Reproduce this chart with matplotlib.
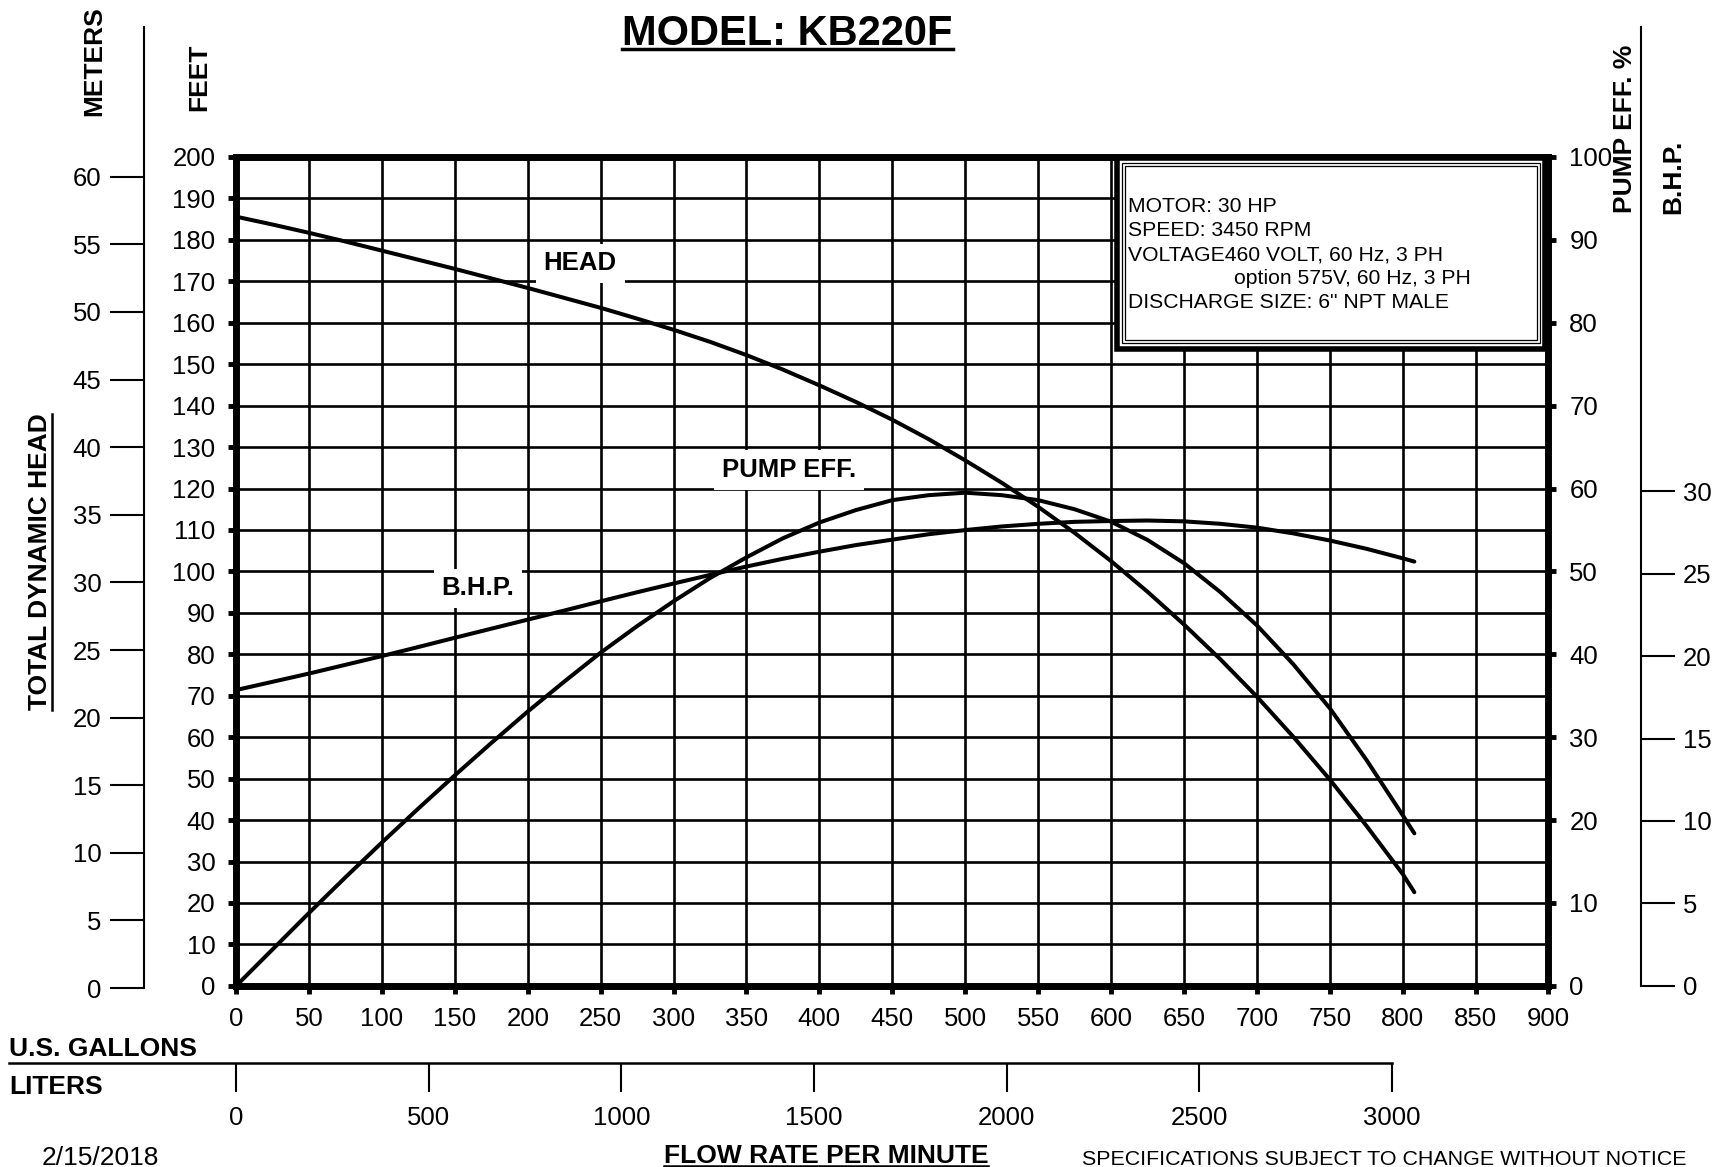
import matplotlib
matplotlib.use("Agg")
import matplotlib.pyplot as plt
from matplotlib.patches import Rectangle
from matplotlib.lines import Line2D

plt.rcParams['font.family'] = ['Liberation Sans', 'DejaVu Sans']

# flow (US gallons per minute) and the three curves
gpm = [0, 25, 50, 75, 100, 125, 150, 175, 200, 225, 250, 275, 300, 325, 350, 375, 400,
       425, 450, 475, 500, 525, 550, 575, 600, 625, 650, 675, 700, 725, 750, 775, 800, 808]
head_ft = [185.6, 183.7, 181.7, 179.6, 177.4, 175.2, 173.0, 170.7, 168.4, 166.0, 163.6,
           161.0, 158.3, 155.4, 152.2, 148.7, 144.9, 140.9, 136.6, 131.9, 126.8, 121.4,
           115.6, 109.3, 102.5, 95.1, 87.2, 78.8, 69.8, 60.1, 49.8, 38.7, 27.0, 22.6]
eff_pct = [0, 4.4, 8.8, 13.1, 17.3, 21.4, 25.4, 29.3, 33.1, 36.7, 40.2, 43.4, 46.4, 49.2,
           51.7, 54.0, 55.9, 57.4, 58.6, 59.2, 59.5, 59.2, 58.6, 57.5, 56.0, 53.8, 51.0,
           47.5, 43.5, 38.8, 33.5, 27.3, 20.6, 18.4]
bhp = [17.94, 18.44, 18.94, 19.47, 20.00, 20.55, 21.11, 21.66, 22.21, 22.76, 23.32,
       23.87, 24.40, 24.92, 25.43, 25.90, 26.33, 26.73, 27.06, 27.39, 27.64, 27.86,
       28.02, 28.14, 28.19, 28.22, 28.17, 28.02, 27.79, 27.44, 27.01, 26.51, 25.93, 25.73]

# axis ticks
gpm_ticks = list(range(0, 901, 50))
ft_ticks = list(range(0, 201, 10))
eff_ticks = list(range(0, 101, 10))
bhp_ticks = list(range(0, 31, 5))
meter_ticks = list(range(0, 61, 5))
liter_ticks = [0, 500, 1000, 1500, 2000, 2500, 3000]
GAL_TO_L = 3.78541

info_lines = ["MOTOR: 30 HP", "SPEED: 3450 RPM", "VOLTAGE460 VOLT, 60 Hz, 3 PH",
              "option 575V, 60 Hz, 3 PH", "DISCHARGE SIZE: 6\" NPT MALE"]

# layout helpers (reference pixel grid 1568 x 1063)
W, H = 1568.0, 1063.0
def fx(x):
    return x / W
def fy(y):
    return 1 - y / H

fig = plt.figure(figsize=(17.22, 11.67), dpi=100)
TS = 18.5
CURVE = dict(color='black', lw=2.9, solid_capstyle='round', solid_joinstyle='round')

# main chart: head in feet
ax = fig.add_axes([fx(215), fy(898), (1410 - 215) / W, (898 - 143) / H])
ax.set_xlim(0, 900)
ax.set_ylim(0, 200)
ax.set_xticks(gpm_ticks)
ax.set_yticks(ft_ticks)
ax.grid(True, color='black', linewidth=1.9)
for s in ax.spines.values():
    s.set_linewidth(5)
ax.tick_params(direction='out', length=6, width=3.5, pad=9, labelsize=TS)
ax.plot(gpm, head_ft, **CURVE)

lab = dict(ha='center', va='center', fontsize=TS, fontweight='bold',
           bbox=dict(facecolor='white', edgecolor='none', boxstyle='square,pad=0.3'))
ax.text(236, 174.3, "HEAD", **lab)
ax.text(379, 124.5, "PUMP EFF.", **lab)
ax.text(166, 95.9, "B.H.P.", **lab)

# pump efficiency on the right border
ax_e = ax.twinx()
ax_e.set_ylim(0, 100)
ax_e.set_yticks(eff_ticks)
ax_e.tick_params(axis='y', direction='out', length=6, width=3.5, pad=9, labelsize=TS)
for s in ax_e.spines.values():
    s.set_visible(False)
ax_e.plot(gpm, eff_pct, **CURVE)

# brake horsepower axis, further right
ax_b = fig.add_axes([fx(215), fy(898), (1494 - 215) / W, (898 - 24.3) / H])
ax_b.set_xlim(0, 900 * (1494 - 215) / (1410 - 215))
ax_b.set_ylim(0, (898 - 24.3) / 15.02)
ax_b.patch.set_visible(False)
for k in ['left', 'top', 'bottom']:
    ax_b.spines[k].set_visible(False)
ax_b.spines['right'].set_linewidth(1.5)
ax_b.set_xticks([])
ax_b.yaxis.tick_right()
ax_b.set_yticks(bhp_ticks)
ax_b.tick_params(axis='y', direction='out', length=24.5, width=1.5, pad=6, labelsize=TS)
ax_b.plot(gpm, bhp, **CURVE)

# meters axis, far left
ax_m = fig.add_axes([fx(131), fy(900), 0.0005, (900 - 24.3) / H])
ax_m.set_ylim(0, (900 - 24.3) / 12.317)
ax_m.patch.set_visible(False)
for k in ['right', 'top', 'bottom']:
    ax_m.spines[k].set_visible(False)
ax_m.spines['left'].set_linewidth(1.5)
ax_m.set_xticks([])
ax_m.set_yticks(meter_ticks)
ax_m.tick_params(axis='y', direction='out', length=24.5, width=1.5, pad=6, labelsize=TS)

# liters scale under the gallons
ax_l = fig.add_axes([fx(8), fy(995), (1410 - 8) / W, 27 / H])
L_full = 900 * GAL_TO_L
ax_l.set_xlim(-L_full * (215 - 8) / (1410 - 215), L_full)
ax_l.patch.set_visible(False)
for k in ['left', 'right', 'bottom']:
    ax_l.spines[k].set_visible(False)
ax_l.spines['top'].set_linewidth(1.8)
ax_l.spines['top'].set_bounds(ax_l.get_xlim()[0], liter_ticks[-1])
ax_l.set_yticks([])
ax_l.set_xticks(liter_ticks)
ax_l.tick_params(axis='x', top=True, bottom=False, labeltop=False, labelbottom=True,
                 direction='in', length=21, width=1.5, pad=10, labelsize=TS)

# info box
tf = fig.transFigure
fig.add_artist(Rectangle((fx(1017), fy(317.5)), (1407 - 1017) / W, (317.5 - 143.5) / H,
                         transform=tf, facecolor='white', edgecolor='black', lw=4, zorder=10))
for inset in (5, 7.5):
    fig.add_artist(Rectangle((fx(1017 + inset), fy(317.5 - inset)),
                             (1407 - 1017 - 2 * inset) / W, (317.5 - 143.5 - 2 * inset) / H,
                             transform=tf, fill=False, edgecolor='black', lw=0.9, zorder=11))
for i, line in enumerate(info_lines):
    x0 = 1124 if line.startswith("option") else 1027
    fig.text(fx(x0), fy(193 + 22 * i), line, fontsize=15.2, va='baseline', ha='left', zorder=12)

# titles and captions
title = fig.text(fx(717), fy(41), "MODEL: KB220F", ha='center', va='baseline',
                 fontsize=30, fontweight='bold')
fig.text(fx(86), fy(56), "METERS", rotation=90, ha='center', va='center',
         fontsize=19, fontweight='bold')
fig.text(fx(181.5), fy(70.5), "FEET", rotation=90, ha='center', va='center',
         fontsize=19, fontweight='bold')
tdh = fig.text(fx(36.5), fy(512), "TOTAL DYNAMIC HEAD", rotation=90, ha='center',
               va='center', fontsize=19, fontweight='bold')
fig.text(fx(1480), fy(117.5), "PUMP EFF. %", rotation=90, ha='center', va='center',
         fontsize=19, fontweight='bold')
fig.text(fx(1524), fy(161.5), "B.H.P.", rotation=90, ha='center', va='center',
         fontsize=19, fontweight='bold')
fig.text(fx(8), fy(962), "U.S. GALLONS", ha='left', va='baseline', fontsize=19, fontweight='bold')
fig.text(fx(8), fy(996.5), "LITERS", ha='left', va='baseline', fontsize=19, fontweight='bold')
fig.text(fx(38), fy(1061), "2/15/2018", ha='left', va='baseline', fontsize=19)
flow = fig.text(fx(752), fy(1059), "FLOW RATE PER MINUTE", ha='center', va='baseline',
                fontsize=19, fontweight='bold')
fig.text(fx(985), fy(1061), "SPECIFICATIONS SUBJECT TO CHANGE WITHOUT NOTICE",
         ha='left', va='baseline', fontsize=15.4)

# underlines
fig.canvas.draw()
r = fig.canvas.get_renderer()
inv = tf.inverted()
for t, yline, lw in [(title, 45, 2.5), (flow, 1062.3, 1.8)]:
    bb = t.get_window_extent(r)
    x0 = inv.transform((bb.x0, 0))[0]
    x1 = inv.transform((bb.x1, 0))[0]
    fig.add_artist(Line2D([x0, x1], [fy(yline), fy(yline)], transform=tf, color='black', lw=lw))
bb = tdh.get_window_extent(r)
y0 = inv.transform((0, bb.y0))[1]
y1 = inv.transform((0, bb.y1))[1]
fig.add_artist(Line2D([fx(47.7), fx(47.7)], [y0, y1], transform=tf, color='black', lw=1.8))

fig.savefig("out.png", dpi=100, facecolor='white')
